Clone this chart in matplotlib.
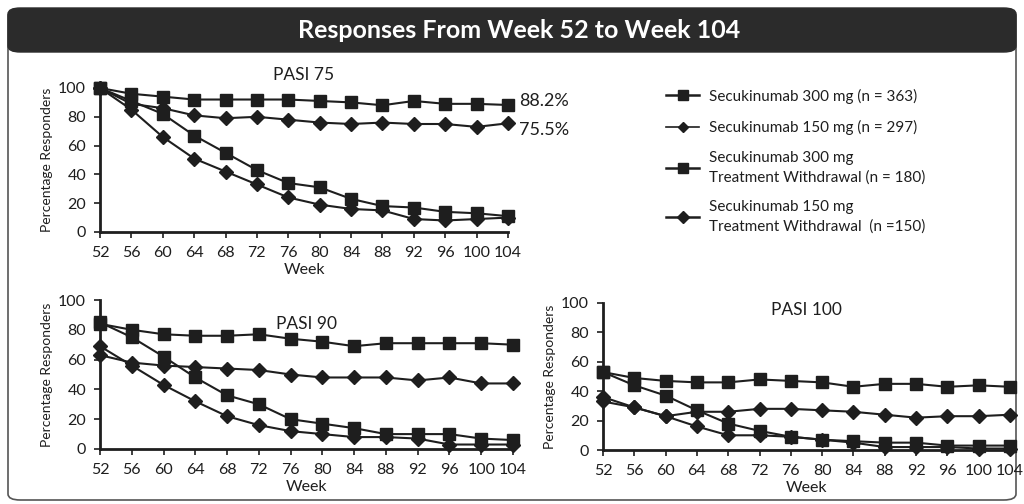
import matplotlib.pyplot as plt
from matplotlib.patches import FancyBboxPatch
from matplotlib.lines import Line2D

plt.rcParams['font.family'] = ['Lato', 'DejaVu Sans']

weeks = [52, 56, 60, 64, 68, 72, 76, 80, 84, 88, 92, 96, 100, 104]

# PASI 75
p75_300 = [100, 96, 94, 92, 92, 92, 92, 91, 90, 88, 91, 89, 89, 88.2]
p75_150 = [100, 89, 86, 81, 79, 80, 78, 76, 75, 76, 75, 75, 73, 75.5]
p75_300_wd = [100, 91, 82, 67, 55, 43, 34, 31, 23, 18, 17, 14, 13, 11]
p75_150_wd = [100, 85, 66, 51, 42, 33, 24, 19, 16, 15, 9, 8, 9, 10]

# PASI 90
p90_300 = [84, 80, 77, 76, 76, 77, 74, 72, 69, 71, 71, 71, 71, 70]
p90_150 = [63, 58, 56, 55, 54, 53, 50, 48, 48, 48, 46, 48, 44, 44]
p90_300_wd = [85, 75, 62, 48, 36, 30, 20, 17, 14, 10, 10, 10, 7, 6]
p90_150_wd = [69, 56, 43, 32, 22, 16, 12, 10, 8, 8, 7, 3, 3, 3]

# PASI 100
p100_300 = [53, 49, 47, 46, 46, 48, 47, 46, 43, 45, 45, 43, 44, 43]
p100_150 = [33, 29, 23, 26, 26, 28, 28, 27, 26, 24, 22, 23, 23, 24]
p100_300_wd = [53, 44, 37, 27, 18, 13, 9, 7, 6, 5, 5, 3, 3, 3]
p100_150_wd = [36, 29, 23, 16, 10, 10, 9, 7, 5, 2, 2, 2, 1, 1]

legend_labels = ['Secukinumab 300 mg (n = 363)',
                 'Secukinumab 150 mg (n = 297)',
                 'Secukinumab 300 mg\nTreatment Withdrawal (n = 180)',
                 'Secukinumab 150 mg\nTreatment Withdrawal  (n =150)']
end_labels = ['88.2%', '75.5%']

ink = '#1e1e1e'
W, H = 1024, 504

fig = plt.figure(figsize=(W / 100, H / 100), dpi=100)

# outer frame with dark header bar, kept behind the axes
frame = FancyBboxPatch((8 / W, 4 / H), 1008 / W, 490 / H,
                       boxstyle='round,pad=0,rounding_size=0.012',
                       transform=fig.transFigure, facecolor='white',
                       edgecolor='#555555', linewidth=1.2, zorder=-10)
fig.patches.append(frame)
header = FancyBboxPatch((8 / W, 452 / H), 1008 / W, 44 / H,
                        boxstyle='round,pad=0,rounding_size=0.012',
                        transform=fig.transFigure, facecolor='#2b2b2b',
                        edgecolor='#2b2b2b', linewidth=1, zorder=-9)
fig.patches.append(header)
fig.text(519 / W, 1 - 30 / H, 'Responses From Week 52 to Week 104', color='white',
         fontsize=18, fontweight='bold', ha='center', va='center')


def add_panel(px_left, px_right, px_top, px_bottom):
    return fig.add_axes([px_left / W, 1 - px_bottom / H,
                         (px_right - px_left) / W, (px_bottom - px_top) / H])


def style_panel(ax, title, title_y):
    ax.set_xlim(52, 104)
    ax.set_ylim(0, 100)
    ax.set_xticks(weeks)
    ax.set_yticks([0, 20, 40, 60, 80, 100])
    ax.patch.set_alpha(0)
    for side in ['top', 'right']:
        ax.spines[side].set_visible(False)
    for side in ['left', 'bottom']:
        ax.spines[side].set_linewidth(2)
        ax.spines[side].set_color(ink)
    ax.tick_params(axis='both', direction='out', length=4, width=1.2,
                   colors=ink, labelsize=11.5, pad=6)
    ax.set_xlabel('Week', fontsize=11.5, color=ink, labelpad=2)
    ax.set_ylabel('Percentage Responders', fontsize=10, color=ink, labelpad=4)
    ax.text(0.5, title_y, title, transform=ax.transAxes, ha='center',
            va='center', fontsize=12.5, color=ink)


def draw_series(ax, s300, s150, s300wd, s150wd):
    kw = dict(color=ink, linewidth=1.5, clip_on=False, zorder=3)
    ax.plot(weeks, s300wd, marker='s', markersize=8, **kw)
    ax.plot(weeks, s150wd, marker='D', markersize=7, **kw)
    ax.plot(weeks, s150, marker='D', markersize=7, **kw)
    ax.plot(weeks, s300, marker='s', markersize=8, **kw)


ax75 = add_panel(100, 508, 88, 232)
draw_series(ax75, p75_300, p75_150, p75_300_wd, p75_150_wd)
style_panel(ax75, 'PASI 75', 1.09)
# final-week values written next to the two continuing arms
ax75.annotate(end_labels[0], (104, p75_300[-1]), xytext=(8, 3),
              textcoords='offset points', fontsize=13, color=ink,
              va='center', annotation_clip=False)
ax75.annotate(end_labels[1], (104, p75_150[-1]), xytext=(8, -5),
              textcoords='offset points', fontsize=13, color=ink,
              va='center', annotation_clip=False)

ax90 = add_panel(100, 513, 300, 449)
draw_series(ax90, p90_300, p90_150, p90_300_wd, p90_150_wd)
style_panel(ax90, 'PASI 90', 0.84)

ax100 = add_panel(603, 1010, 303, 450)
draw_series(ax100, p100_300, p100_150, p100_300_wd, p100_150_wd)
style_panel(ax100, 'PASI 100', 0.95)

# legend
handles = [Line2D([], [], color=ink, linewidth=1.8, marker='s', markersize=7),
           Line2D([], [], color=ink, linewidth=1.2, marker='D', markersize=5),
           Line2D([], [], color=ink, linewidth=1.8, marker='s', markersize=7),
           Line2D([], [], color=ink, linewidth=1.8, marker='D', markersize=6)]
leg = fig.legend(handles, legend_labels, loc='upper left',
                 bbox_to_anchor=(652 / W, 1 - 75 / H), frameon=False,
                 fontsize=11, handlelength=2.2, labelspacing=1.05,
                 handletextpad=0.6, labelcolor=ink)
for txt in leg.get_texts():
    txt.set_linespacing(1.45)

fig.savefig('out.png', dpi=100)
